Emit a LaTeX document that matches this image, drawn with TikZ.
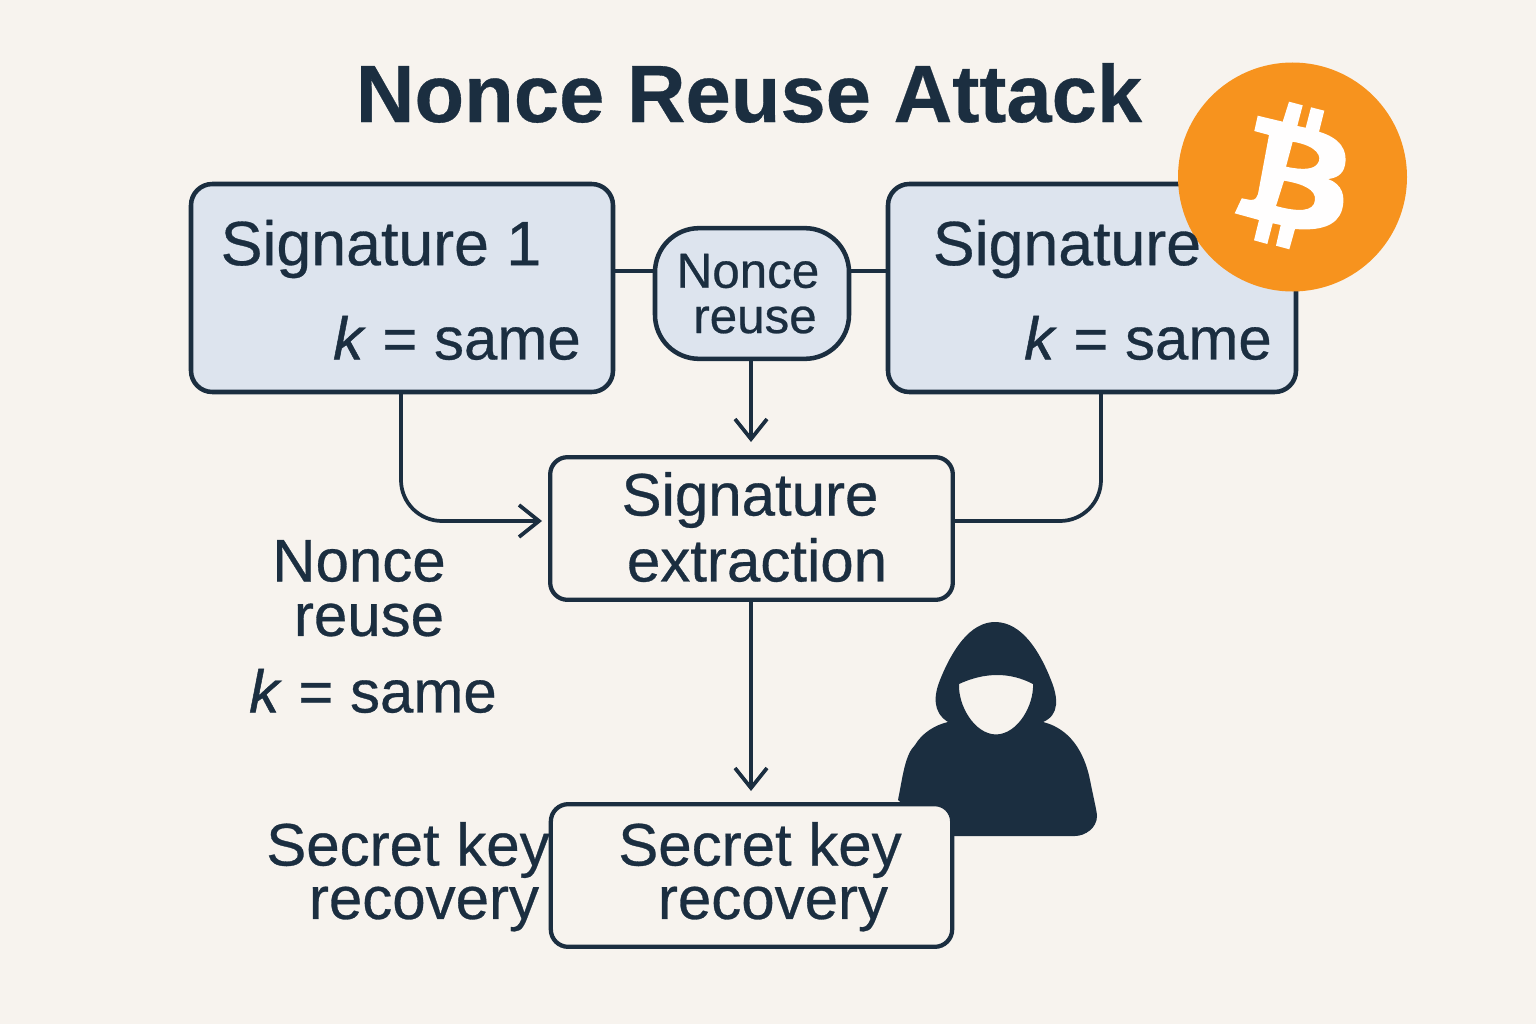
\documentclass[tikz,border=0pt]{standalone}
\usepackage{fontspec}
\setmainfont{Liberation Sans}[FakeBold=0.5,ItalicFont={Liberation Sans Italic},ItalicFeatures={FakeBold=0.8}]
\newfontfamily\titlef{Liberation Sans Bold}[FakeBold=0.4]
\usetikzlibrary{calc,arrows.meta}
\definecolor{bgc}{HTML}{F7F3EE}
\definecolor{ink}{HTML}{1B2E40}
\definecolor{bluef}{HTML}{DDE4EE}
\definecolor{orangec}{HTML}{F7931E}
\newcommand{\fs}[1]{\fontsize{#1}{#1}\selectfont}
\tikzset{
  x=0.75pt,y=-0.75pt,
  boxa/.style={draw=ink,line width=3.4pt,fill=bluef,rounded corners=16pt,inner sep=0pt},
  boxb/.style={draw=ink,line width=3.2pt,fill=bgc,rounded corners=13pt,inner sep=0pt},
  lab/.style={text=ink,inner sep=0pt,font=\fs{45}},
  link/.style={draw=ink,line width=2.8pt},
  arr/.style={link,-{Straight Barb[length=15pt,width=24pt,line width=2.8pt]}},
}
\begin{document}
\begin{tikzpicture}
\useasboundingbox (0,0) rectangle (1536,1024);
\fill[bgc] (0,0) rectangle (1536,1024);
\node[text=ink,inner sep=0pt,font=\fs{61}\titlef] (title) at (749,93) {Nonce Reuse Attack};
% boxes
\node[boxa,minimum width=316.5pt,minimum height=156pt] (sigA) at (402,288) {};
\node[boxa,minimum width=306pt,minimum height=156pt] (sigB) at (1092,288) {};
\node[boxb,minimum width=302pt,minimum height=107pt] (ext) at (751.5,528.5) {};
% connectors
\coordinate (sbB) at (1101,392);
\coordinate (eL) at (542,521);
\coordinate (eR) at (953,521);
\draw[link] (613,271) coordinate (lA) -- (655,271) coordinate (lB);
\draw[link] (849,271) coordinate (lC) -- (888,271) coordinate (lD);
\node[draw=ink,line width=3.4pt,fill=bluef,rounded corners=33pt,inner sep=0pt,minimum width=145.5pt,minimum height=98pt] (nr) at (752,293.5) {};
\draw[arr] (751,359) -- (751,442);
\draw[arr] (401,392) -- (401,480) arc[start angle=180,end angle=90,radius=41] -- (eL);
\draw[link] (sbB) -- (1101,480) arc[start angle=0,end angle=90,radius=41] -- (eR);
% hacker
\fill[ink,even odd rule]
  (995,622) .. controls (1022,622) and (1040,652) .. (1051,680)
  .. controls (1058,697) and (1060,715) .. (1043,722)
  .. controls (1075,730) and (1086,760) .. (1090,780)
  .. controls (1094,800) and (1097,812) .. (1097,816)
  .. controls (1097,828) and (1085,836) .. (1075,836)
  -- (940,836) -- (898,800)
  .. controls (903,775) and (905,755) .. (915,745)
  .. controls (922,733) and (935,725) .. (948,722)
  .. controls (932,712) and (934,695) .. (940,680)
  .. controls (952,650) and (970,622) .. (995,622) -- cycle
  (959,684) .. controls (985,672) and (1010,672) .. (1033,684)
  .. controls (1034,705) and (1018,734) .. (996,734.5)
  .. controls (974,734) and (958,705) .. (959,684) -- cycle;
\node[boxb,minimum width=301pt,minimum height=107pt] (skr) at (751.5,875.5) {};
\draw[arr] (751,600) -- (751,791);
% coin
\fill[orangec] (1292.5,177) circle[radius=114.5];
\fill[white!96!bgc,even odd rule]
  (1257.7,115.7) -- (1282.7,121.7) -- (1289,101.7) -- (1302.7,105.3) -- (1297.3,126) -- (1305.7,127.7) -- (1311,107.3) -- (1324.3,110.7) -- (1319,131.7)
  .. controls (1340,138) and (1348,150) .. (1345,165)
  .. controls (1343,175) and (1336,178) .. (1328,179)
  .. controls (1342,184) and (1346,196) .. (1342,210)
  .. controls (1337,226) and (1320,231) .. (1295,229)
  -- (1289.3,249.3) -- (1276,245.7) -- (1280.7,225) -- (1272.7,223.3) -- (1267.3,244) -- (1254,240.3) -- (1259,220) -- (1234.7,213.3) -- (1241.7,198.3) -- (1250.7,200)
  .. controls (1256,200) and (1257,197) .. (1258,194)
  -- (1269,135) -- (1254.3,131) -- cycle
  (1292.7,141.7) .. controls (1318,146) and (1322,157) .. (1318,163)
  .. controls (1314,170) and (1302,170) .. (1286,166.7) -- cycle
  (1284,180.7) .. controls (1304,184) and (1316,190) .. (1315,200)
  .. controls (1314,212) and (1298,212) .. (1276,206) -- cycle;
% texts
\node[lab,font=\fs{47}] (t1) at (381,249) {Signature 1};
\node[lab] (t2) at (457,338) {\textit{k} = same};
\node[lab,font=\fs{47}] (t3) at (1067,249) {Signature};
\node[lab] (t4) at (1148,338) {\textit{k} = same};
\node[lab,font=\fs{37}] (t5) at (748,271) {Nonce};
\node[lab,font=\fs{37}] (t6) at (755,320) {reuse};
\node[lab] (t7) at (750,500) {Signature};
\node[lab] (t8) at (757,560) {extraction};
\node[lab] (t9) at (359,561) {Nonce};
\node[lab] (t10) at (369,620) {reuse};
\node[lab] (t11) at (373,691) {\textit{k} = same};
\node[lab] (t12) at (408,850) {Secret key};
\node[lab] (t13) at (424,909) {recovery};
\node[lab] (t14) at (760,850) {Secret key};
\node[lab] (t15) at (773,909) {recovery};
\end{tikzpicture}
\end{document}
